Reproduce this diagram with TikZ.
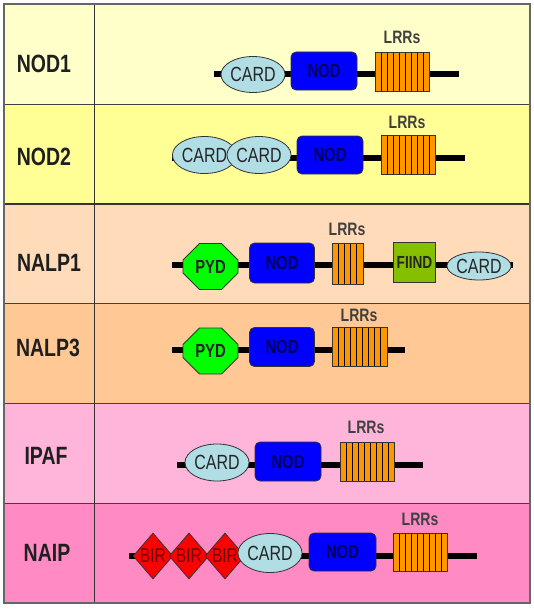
\documentclass[tikz,border=0pt]{standalone}
\usepackage{fontspec}
\setmainfont{Liberation Sans}[FakeStretch=0.78]
\usepackage{tikz}
\usetikzlibrary{shapes.geometric,shapes.misc,calc}

\definecolor{rowA}{RGB}{255,255,202}
\definecolor{rowB}{RGB}{255,255,150}
\definecolor{rowC}{RGB}{255,219,186}
\definecolor{rowD}{RGB}{255,200,148}
\definecolor{rowE}{RGB}{255,180,218}
\definecolor{rowF}{RGB}{255,138,196}
\definecolor{cardblue}{RGB}{176,222,228}
\definecolor{lrrorange}{RGB}{255,150,0}
\definecolor{fiindgreen}{RGB}{134,190,0}
\definecolor{navytext}{RGB}{0,0,90}
\definecolor{birtext}{RGB}{110,0,0}

\tikzstyle{rowlabel} = [font=\bfseries\fontsize{25}{25}\selectfont, text=black!88]
\tikzstyle{lrrlabel} = [font=\bfseries\fontsize{18}{18}\selectfont, text=black!75]
\tikzstyle{backbone} = [line width=6pt, black]
\tikzstyle{dombox} = [draw=black!80, line width=0.8pt, inner sep=0pt]
\tikzstyle{card} = [dombox, ellipse, fill=cardblue, minimum width=54pt, minimum height=36pt,
  font=\fontsize{20.5}{20.5}\selectfont, text=black!85]
\tikzstyle{nodbox} = [dombox, rectangle, rounded corners=5pt, fill=blue, minimum width=66pt,
  minimum height=38pt, font=\bfseries\fontsize{19}{19}\selectfont, text=navytext]
\tikzstyle{pyd} = [dombox, chamfered rectangle, chamfered rectangle xsep=12pt,
  chamfered rectangle ysep=10pt, fill=green, minimum width=55pt, minimum height=46pt,
  font=\bfseries\fontsize{19}{19}\selectfont, text=black!85]
\tikzstyle{fiind} = [dombox, rectangle, fill=fiindgreen, minimum width=42pt, minimum height=40pt,
  font=\bfseries\fontsize{17.5}{17.5}\selectfont, text=black!85]
\tikzstyle{bir} = [dombox, diamond, fill=red, minimum width=33pt, minimum height=46pt,
  font=\fontsize{20}{20}\selectfont, text=birtext]
\tikzset{lrr/.style={dombox, rectangle, fill=lrrorange, minimum width=54pt, minimum height=39pt,
  path picture={
    \foreach \k in {1,...,#1}
      \draw[black, line width=0.8pt]
        ($(path picture bounding box.south west)!\k/(#1+1)!(path picture bounding box.south east)$) --
        ($(path picture bounding box.north west)!\k/(#1+1)!(path picture bounding box.north east)$);
  }}}

\begin{document}
\begin{tikzpicture}[x=1pt, y=-1pt]
  \useasboundingbox (0,0) rectangle (534,610);

  % ROWS
  \fill[rowA] (4,4) rectangle (530,104);
  \fill[rowB] (4,104) rectangle (530,204);
  \fill[rowC] (4,204) rectangle (530,303);
  \fill[rowD] (4,303) rectangle (530,403);
  \fill[rowE] (4,403) rectangle (530,503);
  \fill[rowF] (4,503) rectangle (530,603);

  % grid lines
  \draw[black!75, line width=0.8pt] (4,104) -- (530,104);
  \draw[black!80, line width=1.6pt] (4,204) -- (530,204);
  \draw[black!75, line width=0.8pt] (4,303) -- (530,303);
  \draw[black!75, line width=0.8pt] (4,403) -- (530,403);
  \draw[black!75, line width=0.8pt] (4,503) -- (530,503);
  \draw[black!80, line width=0.8pt] (94,4) -- (94,603);
  \draw[black!60, line width=1.4pt] (4,4) rectangle (530,603);

  % ROW NAMES
  \node[rowlabel] (nod1) at (44,64) {NOD1};
  \node[rowlabel] (nod2) at (44,157) {NOD2};
  \node[rowlabel] (nalp1) at (49,263) {NALP1};
  \node[rowlabel] (nalp3) at (48,348) {NALP3};
  \node[rowlabel] (ipaf) at (46,456) {IPAF};
  \node[rowlabel] (naip) at (47,553) {NAIP};

  % NOD1
  \coordinate (s1) at (214,74);
  \coordinate (e1) at (459,74);
  \draw[backbone] (s1) -- (e1);
  \node[card] (card1) at (253,74.5) {CARD};
  \node[nodbox] (nodA) at (324,71) {NOD};
  \node[lrr=8] (lrr1) at (402,71.5) {};
  \node[lrrlabel] (lab1) at (402,37) {LRRs};

  % NOD2
  \coordinate (s2) at (172,158);
  \coordinate (e2) at (465,158);
  \draw[backbone] (s2) -- (e2);
  \node[card, minimum width=55pt, minimum height=37pt] (card2a) at (204.5,155) {CARD};
  \node[card, minimum height=37pt] (card2b) at (259,155) {CARD};
  \node[nodbox] (nodB) at (330,155) {NOD};
  \node[lrr=8] (lrr2) at (408,155) {};
  \node[lrrlabel] (lab2) at (407,122) {LRRs};

  % NALP1
  \coordinate (s3) at (172,265);
  \coordinate (e3) at (513,265);
  \draw[backbone] (s3) -- (e3);
  \node[pyd] (pyd3) at (210.5,266.5) {PYD};
  \node[nodbox, minimum width=65pt, minimum height=40pt] (nodC) at (282,263) {NOD};
  \node[lrr=4, minimum width=31pt, minimum height=41pt] (lrr3) at (347.5,263.5) {};
  \node[lrrlabel] (lab3) at (347,229) {LRRs};
  \node[fiind] (fiind3) at (414.5,262.5) {FIIND};
  \node[card, minimum width=52pt, minimum height=28pt] (card3) at (479,266) {CARD};

  % NALP3
  \coordinate (s4) at (172,350);
  \coordinate (e4) at (405,350);
  \draw[backbone] (s4) -- (e4);
  \node[pyd] (pyd4) at (210.5,351) {PYD};
  \node[nodbox, minimum width=65pt, minimum height=39pt] (nodD) at (282,347) {NOD};
  \node[lrr=8, minimum width=55pt] (lrr4) at (359.5,347) {};
  \node[lrrlabel] (lab4) at (359,315) {LRRs};

  % IPAF
  \coordinate (s5) at (177,465);
  \coordinate (e5) at (423,465);
  \draw[backbone] (s5) -- (e5);
  \node[card, minimum height=37pt] (card5) at (217,462.5) {CARD};
  \node[nodbox, minimum height=39pt] (nodE) at (288,461.5) {NOD};
  \node[lrr=8] (lrr5) at (367,461.5) {};
  \node[lrrlabel] (lab5) at (366,427) {LRRs};

  % NAIP
  \coordinate (s6) at (129,556);
  \coordinate (e6) at (477,556);
  \draw[backbone] (s6) -- (e6);
  \node[bir] (bir6a) at (153,556) {BIR};
  \node[bir] (bir6b) at (189,556) {BIR};
  \node[bir] (bir6c) at (225,556) {BIR};
  \node[card, minimum width=52pt, minimum height=39pt] (card6) at (270,553) {CARD};
  \node[nodbox, minimum width=67pt] (nodF) at (342.5,552) {NOD};
  \node[lrr=8, minimum height=38pt] (lrr6) at (420,552) {};
  \node[lrrlabel] (lab6) at (420,519) {LRRs};
\end{tikzpicture}
\end{document}
